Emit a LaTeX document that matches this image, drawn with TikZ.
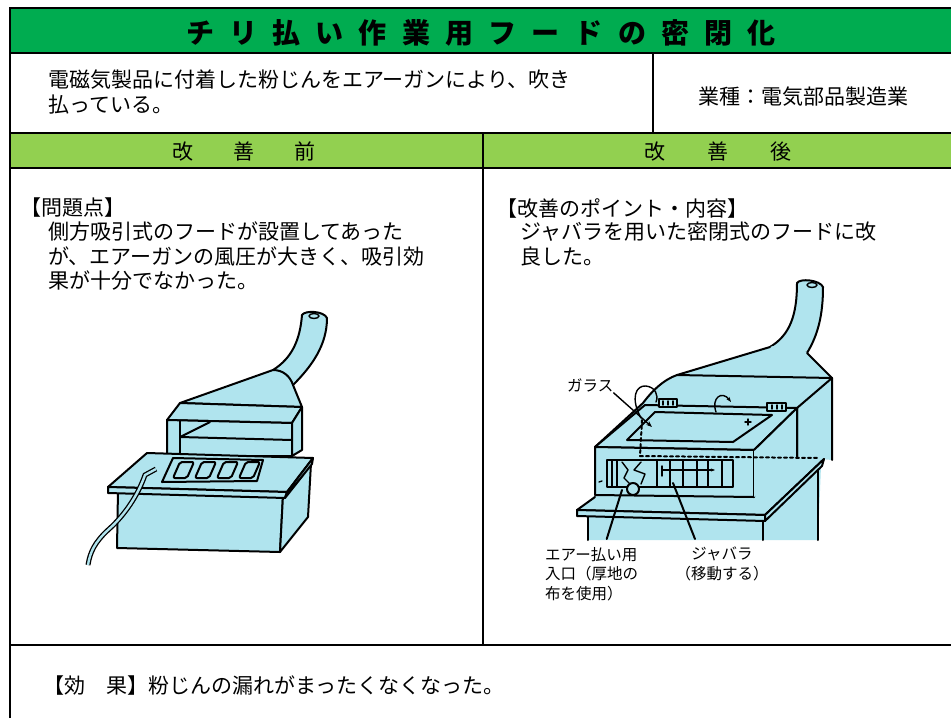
\documentclass[tikz,border=0pt]{standalone}
\usepackage{fontspec}
\newfontfamily\jp{Noto Sans CJK JP}
\usetikzlibrary{arrows.meta}
\definecolor{titlegreen}{RGB}{0,172,80}
\definecolor{headgreen}{RGB}{146,208,80}
\definecolor{hoodcyan}{RGB}{176,228,238}

\begin{document}
\begin{tikzpicture}[x=1pt, y=-1pt,
    frame/.style={line width=2.6pt},
    divider/.style={line width=1.6pt},
    titlechar/.style={font=\jp\bfseries\fontsize{28}{28}\selectfont, inner sep=0, text height=24pt, text depth=4pt},
    headtext/.style={font=\jp\fontsize{21}{21}\selectfont, inner sep=0, text height=18pt, text depth=3pt},
    bodytext/.style={font=\jp\fontsize{21}{24.5}\selectfont, anchor=north west, align=left, inner sep=0},
    tag/.style={font=\jp\fontsize{15.5}{19.5}\selectfont, anchor=north west, align=left, inner sep=0},
    part/.style={draw, fill=hoodcyan, line width=2pt, line join=round},
    edge/.style={line width=2pt, line cap=round, line join=round},
    fine/.style={line width=1.4pt, line cap=round, line join=round}
]
    \useasboundingbox (0,0) rectangle (951,718);
    \fill[white] (0,0) rectangle (951,718);

    \fill[titlegreen] (10,8) rectangle (951,53);
    \fill[headgreen] (10,133) rectangle (951,168);
    \draw[frame] (10,718) -- (10,8) -- (951,8);
    \draw[frame] (10,53) -- (951,53);
    \draw[frame] (10,133) -- (951,133);
    \draw[frame] (10,168) -- (951,168);
    \draw[frame] (10,645) -- (951,645);
    \draw[divider] (653,53) -- (653,133);
    \draw[divider] (483,133) -- (483,645);

    \foreach \c [count=\i] in {チ,リ,払,い,作,業,用,フ,ー,ド,の,密,閉,化}
        \node[titlechar] (title\i) at ({200+43.2*(\i-1)},33) {\c};

    \node[bodytext] (task) at (48,70) {電磁気製品に付着した粉じんをエアーガンにより、吹き\\払っている。};
    \node[headtext] (trade) at (803,97) {業種：電気部品製造業};
    \node[headtext] (before) at (244,152) {改\hspace{40pt}善\hspace{40pt}前};
    \node[headtext] (after) at (718,152) {改\hspace{42pt}善\hspace{42pt}後};

    \node[bodytext] (problem) at (20,198) {【問題点】};
    \node[bodytext] (problemtext) at (48,222) {側方吸引式のフードが設置してあった\\が、エアーガンの風圧が大きく、吸引効\\果が十分でなかった。};
    \node[bodytext] (point) at (496,198) {【改善のポイント・内容】};
    \node[bodytext] (pointtext) at (520,222) {ジャバラを用いた密閉式のフードに改\\良した。};
    \node[bodytext] (effect) at (43,676) {【効　果】粉じんの漏れがまったくなくなった。};

    % before: side hood
    \draw[part] (302,315) .. controls (300,340) and (292,358) .. (273,370)
        -- (293,385) .. controls (312,366) and (327,345) .. (327,318)
        .. controls (324,311) and (305,310) .. (302,315) -- cycle;
    \draw[fine] (314,316) ellipse [x radius=5, y radius=2.5];
    \draw[part] (180,403) -- (273,370) .. controls (283,370) and (290,376) .. (293,385) -- (302,407) -- cycle;
    \draw[part] (180,403) -- (302,407) -- (292,423) -- (167,420) -- cycle;
    \draw[part] (167,420) -- (292,423) -- (292,456) -- (167,456) -- cycle;
    \draw[part] (292,423) -- (302,407) -- (302,450) -- (292,456) -- cycle;
    \draw[edge] (180,421) -- (180,456);
    \draw[edge] (180,437) -- (210,422);
    \draw[edge] (180,437) -- (292,440);
    \draw[part] (118,490) -- (283,495) -- (280,552) -- (117,548) -- cycle;
    \draw[part] (283,495) -- (311,463) -- (308,517) -- (280,552) -- cycle;
    \draw[part] (147,453) -- (313,458) -- (287,492) -- (108,487) -- cycle;
    \draw[part] (108,487) -- (287,492) -- (285,498) -- (108,493) -- cycle;
    \draw[part] (287,492) -- (313,458) -- (312,464) -- (285,498) -- cycle;
    \draw[part] (173,458) -- (263,460) -- (257,481) -- (162,482) -- cycle;
    \foreach \s in {0,...,3}
        \draw[part, rounded corners=2pt] ({180+22*\s},462) -- ({194+22*\s},462) -- ({187+22*\s},478) -- ({173+22*\s},478) -- cycle;
    \draw[line width=1.3pt, double=hoodcyan, double distance=2.4pt] (156,469) -- (145,475)
        .. controls (138,495) and (125,515) .. (108,530) .. controls (95,542) and (90,552) .. (88,565);

    % after: closed hood with bellows
    \draw[part] (797,283) .. controls (797,315) and (790,335) .. (770,347) -- (807,353)
        .. controls (818,335) and (823,315) .. (823,287) .. controls (820,280) and (800,278) .. (797,283) -- cycle;
    \draw[fine] (812,285) ellipse [x radius=5, y radius=2.5];
    \fill[hoodcyan] (595,447) -- (643,403) .. controls (652,391) and (663,380) .. (677,375) -- (770,347)
        .. controls (785,342) and (800,344) .. (807,353) -- (832,378) -- (832,460) -- (797,457) -- cycle;
    \draw[edge] (595,447) -- (643,403) .. controls (652,391) and (663,380) .. (677,375) -- (770,347);
    \draw[edge] (807,353) -- (832,378) -- (832,460);
    \draw[edge] (677,375) -- (832,378);
    \draw[edge] (832,378) -- (797,408) -- (797,457);

    \fill[hoodcyan] (588,516) -- (765,521) -- (821,466) -- (818,540) -- (588,540) -- cycle;
    \draw[edge] (588,516) -- (588,540);
    \draw[edge] (763,521) -- (763,540);
    \draw[edge] (818,467) -- (818,540);
    \fill[hoodcyan] (577,510) -- (602,490) -- (818,455) -- (824,459) -- (765,515) -- cycle;
    \draw[edge] (595,497) -- (577,510) -- (765,515) -- (824,459);
    \draw[part] (577,510) -- (765,515) -- (765,521) -- (577,516) -- cycle;
    \draw[part] (765,515) -- (824,459) -- (822,466) -- (765,521) -- cycle;

    \draw[part] (595,447) -- (645,405) -- (797,408) -- (754,450) -- cycle;
    \draw[part] (595,447) -- (754,450) -- (754,497) -- (595,495) -- cycle;
    \fill[hoodcyan] (754,450) -- (797,408) -- (797,457) -- (754,497) -- cycle;
    \draw[edge] (754,450) -- (797,408) -- (797,457);
    \draw[edge] (655,412) -- (772,415) -- (733,442) -- (627,440) -- cycle;
    \draw[fine, fill=hoodcyan] (659,399) rectangle (677,407);
    \draw[fine, fill=hoodcyan] (767,403) rectangle (786,411);
    \foreach \x in {663,668,673}
        \draw[fine] (\x,401) -- (\x,405);
    \foreach \x in {772,777,782}
        \draw[fine] (\x,405) -- (\x,409);
    \draw[fine] (641,418) .. controls (630,398) and (636,385) .. (646,386) .. controls (655,387) and (659,395) .. (656,402);
    \draw[fine, -{Stealth[length=5pt]}] (716,412) .. controls (711,398) and (722,390) .. (731,402);
    \draw[fine] (745,422) -- (751,422) (748,419) -- (748,425);
    \draw[edge, dashed] (642,420) -- (640,456);
    \draw[edge, dashed] (640,456) -- (818,458);

    \draw[part] (607,460) rectangle (733,487);
    \foreach \x in {612,617,657,670,683,697,708,722}
        \draw[fine] (\x,460) -- (\x,487);
    \draw[fine] (622,462) -- (628,470) -- (624,478) -- (630,484);
    \draw[fine] (641,462) -- (634,470) -- (645,474) -- (641,484);
    \draw[part] (633,489) circle (6);
    \draw[fine] (662,466) -- (662,476);
    \draw[fine, -{Stealth[length=4pt]}] (663,470) -- (715,470);
    \draw[fine] (683,470) -- (683,477) (697,470) -- (697,477);
    \draw[fine] (599,482) -- (602,481);

    \node[tag] (glasslbl) at (567,379) {ガラス};
    \coordinate (glasspt) at (652,427);
    \draw[fine, -{Stealth[length=6pt]}] (glasslbl.south east) -- (glasspt);
    \node[tag] (airlbl) at (545,547) {エアー払い用\\入口（厚地の\\布を使用）};
    \coordinate (airport) at (622,490);
    \draw[edge] ([shift={(15,-8)}]airlbl.north) -- (airport);
    \node[tag, align=center, anchor=north] (bellowslbl) at (722,547) {ジャバラ\\（移動する）};
    \coordinate (bellowspt) at (673,483);
    \draw[edge] ([shift={(-27,-8)}]bellowslbl.north) -- (bellowspt);
\end{tikzpicture}
\end{document}
